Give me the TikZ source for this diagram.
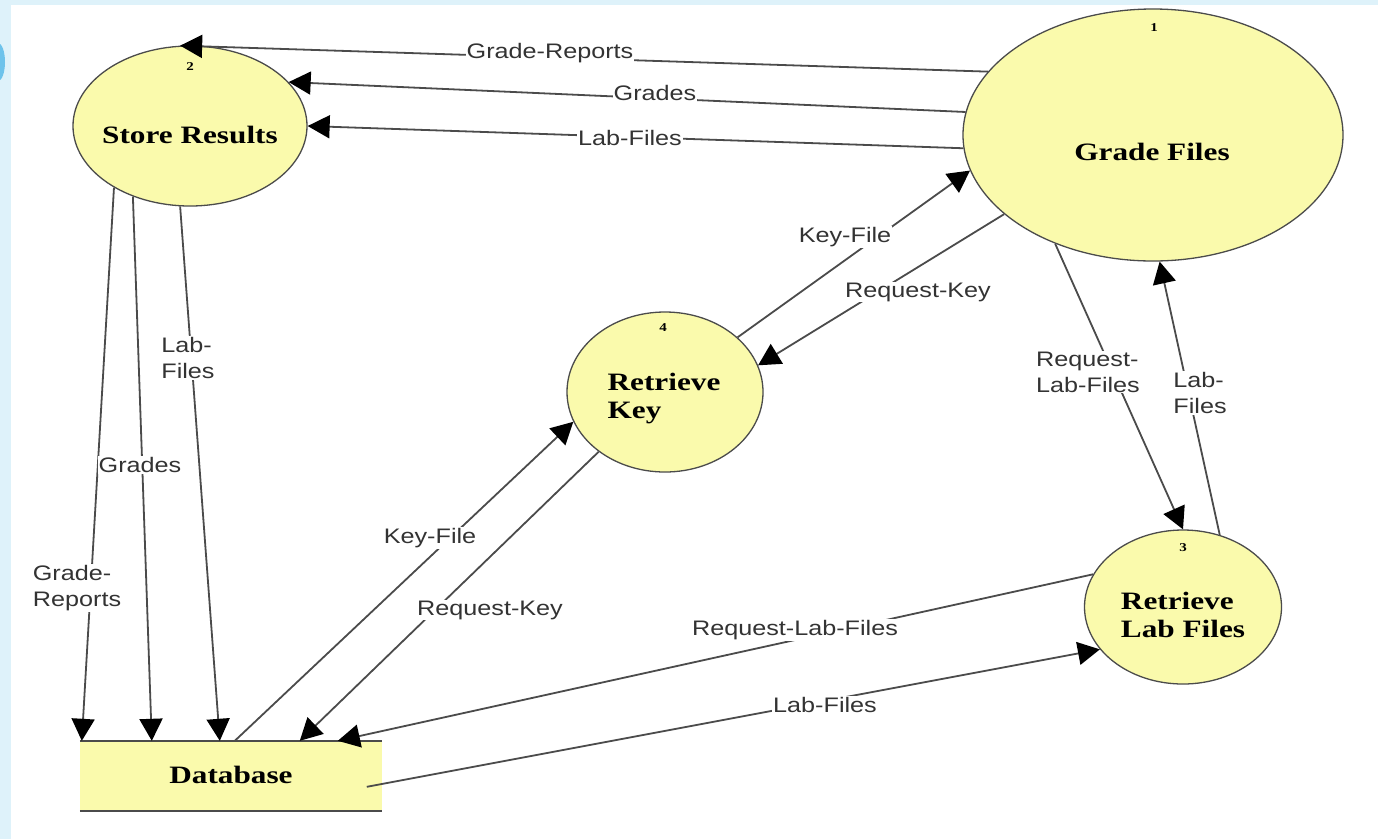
\documentclass[tikz,border=0pt]{standalone}
\usepackage{fontspec}
\usetikzlibrary{arrows.meta,shapes.geometric,calc}
\newfontfamily\nodefont[FakeStretch=1.25]{Liberation Serif}
\newfontfamily\edgefont[FakeStretch=1.2]{Liberation Sans}
\definecolor{bubble}{RGB}{250,250,172}
\definecolor{lineg}{RGB}{75,75,75}
\definecolor{bgblue}{RGB}{222,242,250}
\definecolor{blob}{RGB}{110,195,235}
\begin{document}
\begin{tikzpicture}[x=1pt,y=-1pt,
  proc/.style={ellipse,draw=lineg,line width=1.3pt,fill=bubble,inner sep=0pt},
  store/.style={rectangle,fill=bubble,inner sep=0pt},
  ptext/.style={font=\nodefont\bfseries\fontsize{25}{28}\selectfont,align=left,inner sep=0pt},
  pnum/.style={font=\nodefont\bfseries\fontsize{12}{14}\selectfont,inner sep=0pt},
  flow/.style={draw=lineg,line width=1.8pt,-{Triangle[length=22pt,width=23pt,color=black]}},
  flab/.style={font=\edgefont\fontsize{21}{26}\selectfont,text=black!80,fill=white,inner sep=1pt,align=left}]
\useasboundingbox (0,0) rectangle (1378,839);
\fill[bgblue] (0,0) rectangle (1378,839);
\fill[white] (11,5) rectangle (1378,839);
\fill[blob] (-2,62) ellipse (7 and 19);

% processes
\node[proc,minimum width=234pt,minimum height=160pt] (SR) at (190,126) {};
\node[proc,minimum width=380pt,minimum height=252pt] (GF) at (1153,135) {};
\node[proc,minimum width=196pt,minimum height=160pt] (RK) at (665,392) {};
\node[proc,minimum width=197pt,minimum height=154pt] (RL) at (1183,607) {};
\node[store,minimum width=302pt,minimum height=70pt] (DB) at (231,776) {};
\draw[lineg,line width=1.8pt] (DB.north west) -- (DB.north east);
\draw[lineg,line width=1.8pt] (DB.south west) -- (DB.south east);

% texts
\node[ptext] (SRt) at ($(SR)+(0,9)$) {Store Results};
\node[ptext] (GFt) at ($(GF)+(-1,17)$) {Grade Files};
\node[ptext] (RKt) at ($(RK)+(-1,7)$) {Retrieve\\Key};
\node[ptext] (RLt) at ($(RL)+(0,8)$) {Retrieve\\Lab Files};
\node[ptext] (DBt) at ($(DB)+(0,-1)$) {Database};
\node[pnum] (SRn) at ($(SR)+(0,-59)$) {2};
\node[pnum] (GFn) at ($(GF)+(1,-107)$) {1};
\node[pnum] (RKn) at ($(RK)+(-2,-64)$) {4};
\node[pnum] (RLn) at ($(RL)+(0,-59)$) {3};

% flows
\draw[flow] (GF.159) -- (SR.97);
\draw[flow] (GF.173) -- (SR.24);
\draw[flow] (GF.184) -- (SR.0);
\draw[flow] (SR.219) -- ($(DB.north west)+(2,0)$);
\draw[flow] (SR.231) -- ($(DB.north west)+(72,0)$);
\draw[flow] (SR.263) -- ($(DB.north west)+(140,0)$);
\draw[flow] (RK.37) -- (GF.191);
\draw[flow] (GF.208) -- (RK.16);
\draw[flow] (GF.228) -- (RL.90);
\draw[flow] (RL.63) -- (GF.273);
\draw[flow] ($(DB.north west)+(155,0)$) -- (RK.198);
\draw[flow] (RK.222) -- ($(DB.north west)+(220,0)$);
\draw[flow] (RL.160) -- ($(DB.north west)+(258,0)$);
\draw[flow] ($(DB.north west)+(287,46)$) -- (RL.207);

% flow labels
\node[flab] (l1) at (550,53) {Grade-Reports};
\node[flab] (l2) at (655,93) {Grades};
\node[flab] (l3) at (630,138) {Lab-Files};
\node[flab] (l4) at (188,358) {Lab-\\Files};
\node[flab] (l5) at (140,465) {Grades};
\node[flab] (l6) at (77,588) {Grade-\\Reports};
\node[flab] (l7) at (845,237) {Key-File};
\node[flab] (l8) at (918,292) {Request-Key};
\node[flab] (l9) at (1088,372) {Request-\\Lab-Files};
\node[flab] (l10) at (1200,393) {Lab-\\Files};
\node[flab] (l11) at (430,538) {Key-File};
\node[flab] (l12) at (490,610) {Request-Key};
\node[flab] (l13) at (795,630) {Request-Lab-Files};
\node[flab] (l14) at (825,705) {Lab-Files};
\end{tikzpicture}
\end{document}
